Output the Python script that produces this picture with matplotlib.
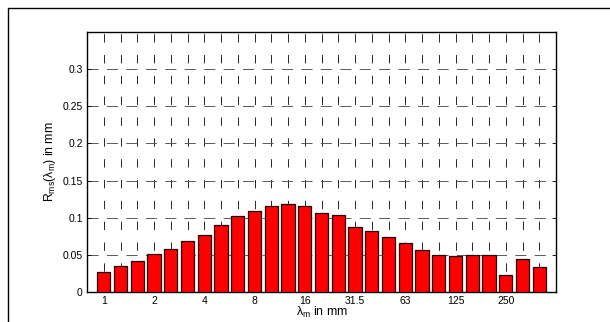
import matplotlib
matplotlib.use("Agg")
import matplotlib.pyplot as plt
from matplotlib.patches import Rectangle
import numpy as np

plt.rcParams['font.family'] = ['Liberation Sans', 'DejaVu Sans']
plt.rcParams['mathtext.fontset'] = 'custom'
plt.rcParams['mathtext.rm'] = 'Liberation Sans'
plt.rcParams['mathtext.it'] = 'Liberation Sans'
plt.rcParams['lines.scale_dashes'] = False

# one-third octave bands, label every third one
band_labels = ['1', '', '', '2', '', '', '4', '', '', '8', '', '', '16', '', '',
               '31.5', '', '', '63', '', '', '125', '', '', '250', '', '']
rms_values = [0.027, 0.035, 0.042, 0.051, 0.058, 0.068, 0.077, 0.090, 0.102,
              0.109, 0.116, 0.118, 0.116, 0.107, 0.104, 0.087, 0.082, 0.074,
              0.066, 0.056, 0.050, 0.048, 0.050, 0.050, 0.023, 0.044, 0.034]
y_ticks = [0, 0.05, 0.1, 0.15, 0.2, 0.25, 0.3]
y_tick_labels = ['0', '0.05', '0.1', '0.15', '0.2', '0.25', '0.3']

W, H = 610, 322
fig = plt.figure(figsize=(W / 100, H / 100), dpi=100)

# outer frame (clipped at right and bottom in the original)
fig.patches.append(Rectangle((8 / W, -0.2), 1.2, 1 - 8 / H + 0.2,
                             transform=fig.transFigure, fill=False,
                             edgecolor='black', linewidth=1.0))

ax = fig.add_axes([87 / W, 1 - 292 / H, (556 - 87) / W, (292 - 32) / H])

pos = np.arange(1, len(rms_values) + 1)
ax.bar(pos, rms_values, width=0.8, color='#ff0000', edgecolor='#200000',
       linewidth=0.9, zorder=3)

ax.set_xlim(0, len(rms_values) + 1)
ax.set_ylim(0, 0.35)
ax.set_xticks(pos)
ax.set_xticklabels(band_labels, fontsize=7.5)
ax.set_yticks(y_ticks)
ax.set_yticklabels(y_tick_labels, fontsize=7.5)

ax.set_axisbelow(True)
ax.grid(True, axis='x', color='0.15', linestyle=(0, (6, 9)), linewidth=0.7)
ax.grid(True, axis='y', color='0.35', linestyle=(0, (8, 6)), linewidth=0.7)

ax.tick_params(direction='in', length=3, width=0.6, top=False, right=True,
               pad=3)
ax.tick_params(axis='x', length=0)
for s in ax.spines.values():
    s.set_linewidth(1.0)

ax.set_ylabel(r'$\mathregular{R_{ms}(\lambda_m)}$ in mm', fontsize=8.8,
              labelpad=3)
ax.set_xlabel(r'$\mathregular{\lambda_m}$ in mm', fontsize=8.8, labelpad=-1)

fig.savefig('out.png', dpi=100)
